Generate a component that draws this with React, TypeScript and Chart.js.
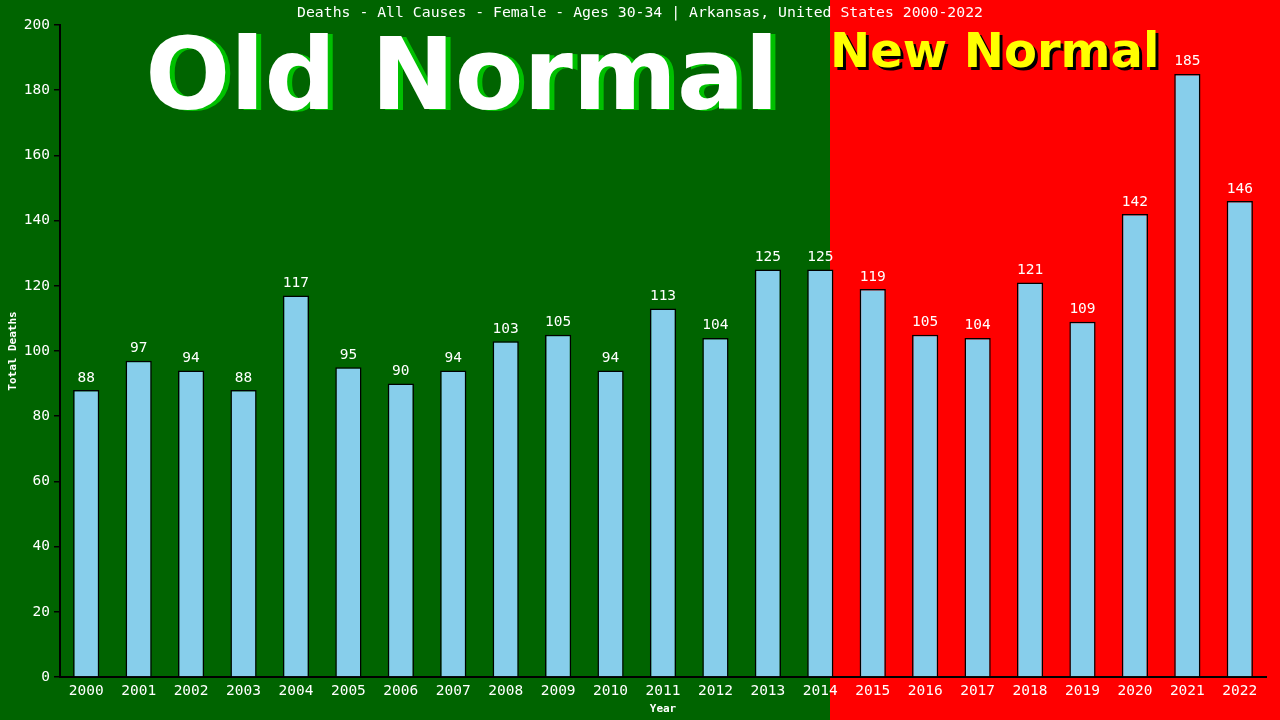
import React, { useEffect, useRef } from "react";
import { Chart, registerables } from "chart.js";

Chart.register(...registerables);

const years = [
  "2000", "2001", "2002", "2003", "2004", "2005", "2006", "2007", "2008",
  "2009", "2010", "2011", "2012", "2013", "2014", "2015", "2016", "2017",
  "2018", "2019", "2020", "2021", "2022",
];

const deaths = [
  88, 97, 94, 88, 117, 95, 90, 94, 103, 105, 94, 113, 104, 125, 125, 119, 105,
  104, 121, 109, 142, 185, 146,
];

const yTicks = [0, 20, 40, 60, 80, 100, 120, 140, 160, 180, 200];

const chartTitle =
  "Deaths - All Causes - Female - Ages 30-34 | Arkansas, United States 2000-2022";

const mono = "'DejaVu Sans Mono', monospace";

// green "old normal" / red "new normal" backdrop plus the big labels
const backdrop = {
  id: "backdrop",
  beforeDraw(chart: Chart) {
    const { ctx, width, height } = chart;
    const split = 830;
    ctx.save();
    ctx.fillStyle = "#006400";
    ctx.fillRect(0, 0, split, height);
    ctx.fillStyle = "#ff0000";
    ctx.fillRect(split, 0, width - split, height);

    ctx.font = `14.8px ${mono}`;
    ctx.fillStyle = "#ffffff";
    ctx.textAlign = "center";
    ctx.textBaseline = "middle";
    ctx.fillText(chartTitle, width / 2, 13);

    ctx.font = "bold 100px 'DejaVu Sans', sans-serif";
    ctx.textAlign = "center";
    ctx.textBaseline = "alphabetic";
    ctx.fillStyle = "#00c000";
    ctx.fillText("Old Normal", 467, 110);
    ctx.fillStyle = "#ffffff";
    ctx.fillText("Old Normal", 462, 109);

    ctx.font = "bold 48px 'DejaVu Sans', sans-serif";
    ctx.textAlign = "left";
    ctx.fillStyle = "#000000";
    ctx.fillText("New Normal", 833, 70);
    ctx.fillStyle = "#ffff00";
    ctx.fillText("New Normal", 830, 67);
    ctx.restore();
  },
};

const valueLabels = {
  id: "valueLabels",
  afterDatasetsDraw(chart: Chart) {
    const { ctx } = chart;
    const meta = chart.getDatasetMeta(0);
    ctx.save();
    ctx.font = `14.5px ${mono}`;
    ctx.fillStyle = "#ffffff";
    ctx.textAlign = "center";
    ctx.textBaseline = "bottom";
    meta.data.forEach((bar: any, i: number) => {
      ctx.fillText(String(deaths[i]), bar.x, bar.y - 5);
    });
    ctx.restore();
  },
};

const App: React.FC = () => {
  const chartRef = useRef<HTMLCanvasElement | null>(null);
  const chartInstance = useRef<Chart<"bar"> | null>(null);

  useEffect(() => {
    document.body.style.margin = "0";
    if (!chartRef.current) return;
    if (chartInstance.current) chartInstance.current.destroy();
    const ctx = chartRef.current.getContext("2d");
    if (!ctx) return;

    chartInstance.current = new Chart(ctx, {
      type: "bar",
      data: {
        labels: years,
        datasets: [
          {
            label: "Total Deaths",
            data: deaths,
            backgroundColor: "#87ceeb",
            borderColor: "#000000",
            borderWidth: 1.5,
            borderSkipped: "bottom",
            categoryPercentage: 1,
            barPercentage: 0.5,
          },
        ],
      },
      options: {
        responsive: false,
        animation: false,
        layout: { padding: { top: 25, right: 14, left: 0, bottom: 0 } },
        plugins: {
          legend: { display: false },
          tooltip: { enabled: false },
          title: { display: false },
        },
        scales: {
          x: {
            grid: { display: false },
            border: { color: "#000000", width: 2 },
            ticks: {
              color: "#ffffff",
              font: { family: mono, size: 14.5 },
              padding: -2,
              maxRotation: 0,
              autoSkip: false,
            },
            title: {
              display: true,
              text: "Year",
              color: "#ffffff",
              font: { family: mono, size: 11, weight: "bold" },
              padding: { top: 2, bottom: 4 },
            },
            afterFit: (s: any) => {
              s.height = 43;
            },
          },
          y: {
            min: 0,
            max: 200,
            afterBuildTicks: (s: any) => {
              s.ticks = yTicks.map((v) => ({ value: v }));
            },
            grid: {
              drawOnChartArea: false,
              drawTicks: true,
              tickLength: 6,
              color: "#000000",
              lineWidth: 1.5,
            },
            border: { color: "#000000", width: 2 },
            ticks: {
              color: "#ffffff",
              font: { family: mono, size: 14.5 },
              padding: 4,
            },
            title: {
              display: true,
              text: "Total Deaths",
              color: "#ffffff",
              font: { family: mono, size: 11, weight: "bold" },
              padding: { top: 7, bottom: 4 },
            },
            afterFit: (s: any) => {
              s.width = 60;
            },
          },
        },
      },
      plugins: [backdrop, valueLabels],
    });

    return () => {
      if (chartInstance.current) {
        chartInstance.current.destroy();
        chartInstance.current = null;
      }
    };
  }, []);

  return (
    <div style={{ width: 1280, height: 720 }}>
      <canvas ref={chartRef} width={1280} height={720} style={{ display: "block" }} />
    </div>
  );
};

export default App;
